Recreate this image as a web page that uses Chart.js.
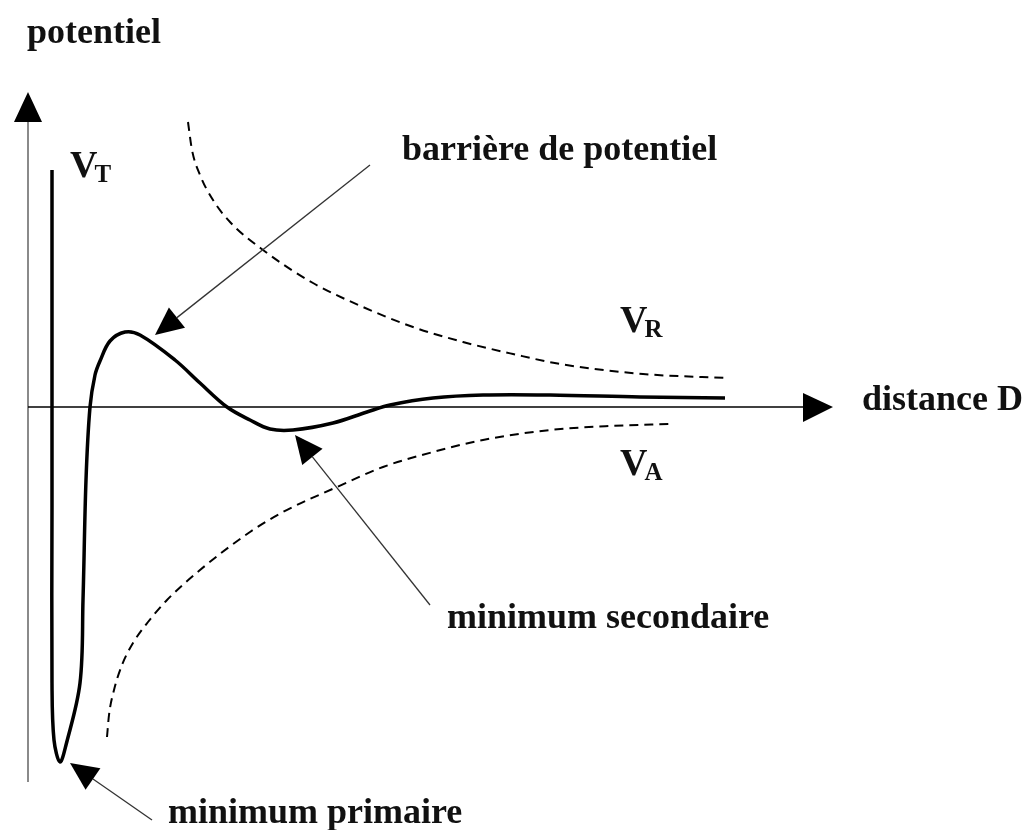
<!DOCTYPE html>
<html>
<head>
<meta charset="utf-8">
<script src="https://cdn.jsdelivr.net/npm/chart.js@4/dist/chart.umd.min.js"></script>
<style>
	body { margin: 0; background: #fff; }
	#wrap { width: 1029px; height: 830px; }
</style>
</head>
<body>
<div id="wrap"><canvas id="c" width="1029" height="830"></canvas></div>
<script>
// distance D (arbitrary units) and potential values
const vtD = [2.4, 2.4, 2.4, 2.6, 3.2, 3.8, 5.2, 5.5, 5.8, 6.2, 6.7, 7.2, 8.2, 9.7, 11.2, 14.7, 17.2, 19.9, 22.2, 24.2, 26.5, 30.5, 33.9, 36.2, 40.5, 45.5, 52.2, 61.2, 69.7]
const vtV = [23.7, -10, -27.6, -33.3, -35.5, -33.8, -27.6, -19.3, -7.3, 0, 3.2, 4.6, 6.6, 7.5, 7.2, 4.7, 2.4, 0, -1.3, -2.2, -2.3, -1.6, -0.5, 0.2, 0.9, 1.2, 1.2, 1.0, 0.9]

const vrD = [16.0, 16.4, 17.2, 18.5, 20.2, 23.5, 28.5, 33.5, 38.5, 43.5, 48.5, 53.2, 61.5, 69.9]
const vrV = [28.5, 25.7, 23.2, 20.7, 18.5, 15.7, 12.4, 10.0, 8.0, 6.5, 5.3, 4.3, 3.3, 2.9]

const vaD = [7.9, 8.1, 8.6, 9.4, 10.5, 12.0, 13.9, 17.2, 22.2, 25.5, 30.9, 35.5, 40.5, 45.5, 52.2, 58.2, 64.4]
const vaV = [-33.0, -30.8, -28.3, -25.8, -23.6, -21.5, -19.3, -16.3, -12.5, -10.5, -8.0, -6.0, -4.5, -3.3, -2.3, -1.9, -1.7]

// axis extent
const dMax = 80.5
const vMin = -37.5
const vMax = 31.5

// annotation arrows: [fromD, fromV, tipD, tipV]
const arrows = [
	[34.2, 24.2, 12.7, 7.2],
	[40.2, -19.8, 26.7, -2.8],
	[12.4, -41.3, 4.2, -35.6],
]

// labels: [text, d, v]
const labels = [
	["potentiel", -0.1, 36.4],
	["barrière de potentiel", 37.4, 24.7],
	["distance D", 83.4, -0.3],
	["minimum secondaire", 41.9, -22.1],
	["minimum primaire", 14.0, -41.6],
]
// subscripted names: [main, sub, d, v]
const names = [
	["V", "T", 4.2, 23.0],
	["V", "R", 59.2, 7.5],
	["V", "A", 59.2, -6.8],
]

const toPts = (xs, ys) => xs.map((x, i) => ({ x: x, y: ys[i] }))

const serif = '"Liberation Serif", "Times New Roman", serif'

const sketch = {
	id: "sketch",
	beforeDatasetsDraw(chart) {
		const { ctx, chartArea: a, scales: { x, y } } = chart
		const y0 = y.getPixelForValue(0)
		const x0 = x.getPixelForValue(0)
		ctx.save()
		// y axis (grey) with arrow
		ctx.strokeStyle = "#8a8a8a"
		ctx.lineWidth = 2
		ctx.beginPath()
		ctx.moveTo(x0, a.bottom)
		ctx.lineTo(x0, a.top + 28)
		ctx.stroke()
		ctx.fillStyle = "#000"
		ctx.beginPath()
		ctx.moveTo(x0, a.top)
		ctx.lineTo(x0 - 14, a.top + 30)
		ctx.lineTo(x0 + 14, a.top + 30)
		ctx.closePath()
		ctx.fill()
		// x axis with arrow
		ctx.strokeStyle = "#000"
		ctx.lineWidth = 1.5
		ctx.beginPath()
		ctx.moveTo(x0, y0)
		ctx.lineTo(a.right - 28, y0)
		ctx.stroke()
		ctx.beginPath()
		ctx.moveTo(a.right, y0)
		ctx.lineTo(a.right - 30, y0 - 14)
		ctx.lineTo(a.right - 30, y0 + 15)
		ctx.closePath()
		ctx.fill()
		ctx.restore()
	},
	afterDraw(chart) {
		const { ctx, scales: { x, y } } = chart
		ctx.save()
		// annotation arrows
		arrows.forEach(([d1, v1, d2, v2]) => {
			const x1 = x.getPixelForValue(d1), y1 = y.getPixelForValue(v1)
			const x2 = x.getPixelForValue(d2), y2 = y.getPixelForValue(v2)
			const ang = Math.atan2(y2 - y1, x2 - x1)
			const len = 28, hw = 13
			const bx = x2 - len * Math.cos(ang), by = y2 - len * Math.sin(ang)
			ctx.strokeStyle = "#333"
			ctx.lineWidth = 1.3
			ctx.beginPath()
			ctx.moveTo(x1, y1)
			ctx.lineTo(bx, by)
			ctx.stroke()
			ctx.fillStyle = "#000"
			ctx.beginPath()
			ctx.moveTo(x2, y2)
			ctx.lineTo(bx + hw * Math.sin(ang), by - hw * Math.cos(ang))
			ctx.lineTo(bx - hw * Math.sin(ang), by + hw * Math.cos(ang))
			ctx.closePath()
			ctx.fill()
		})
		// texts
		ctx.fillStyle = "#111"
		ctx.textBaseline = "alphabetic"
		ctx.font = "bold 36px " + serif
		labels.forEach(([t, d, v]) => {
			ctx.fillText(t, x.getPixelForValue(d), y.getPixelForValue(v))
		})
		names.forEach(([m, s, d, v]) => {
			const px = x.getPixelForValue(d), py = y.getPixelForValue(v)
			ctx.font = "bold 38px " + serif
			ctx.fillText(m, px, py)
			const w = ctx.measureText(m).width
			ctx.font = "bold 25px " + serif
			ctx.fillText(s, px + w - 3, py + 5)
		})
		ctx.restore()
	},
}

new Chart(document.getElementById("c"), {
	type: "scatter",
	data: {
		datasets: [
			{
				label: "VT",
				data: toPts(vtD, vtV),
				showLine: true,
				borderColor: "#000",
				borderWidth: 3.5,
				pointRadius: 0,
				tension: 0.35,
			},
			{
				label: "VR",
				data: toPts(vrD, vrV),
				showLine: true,
				borderColor: "#000",
				borderWidth: 2,
				borderDash: [9, 6],
				pointRadius: 0,
				cubicInterpolationMode: "monotone",
			},
			{
				label: "VA",
				data: toPts(vaD, vaV),
				showLine: true,
				borderColor: "#000",
				borderWidth: 2,
				borderDash: [9, 6],
				pointRadius: 0,
				cubicInterpolationMode: "monotone",
			},
		],
	},
	options: {
		responsive: false,
		animation: false,
		layout: { padding: { left: 28, right: 196, top: 92, bottom: 48 } },
		plugins: { legend: { display: false }, tooltip: { enabled: false } },
		scales: {
			x: { type: "linear", display: false, min: 0, max: dMax },
			y: { type: "linear", display: false, min: vMin, max: vMax },
		},
	},
	plugins: [sketch],
})
</script>
</body>
</html>
